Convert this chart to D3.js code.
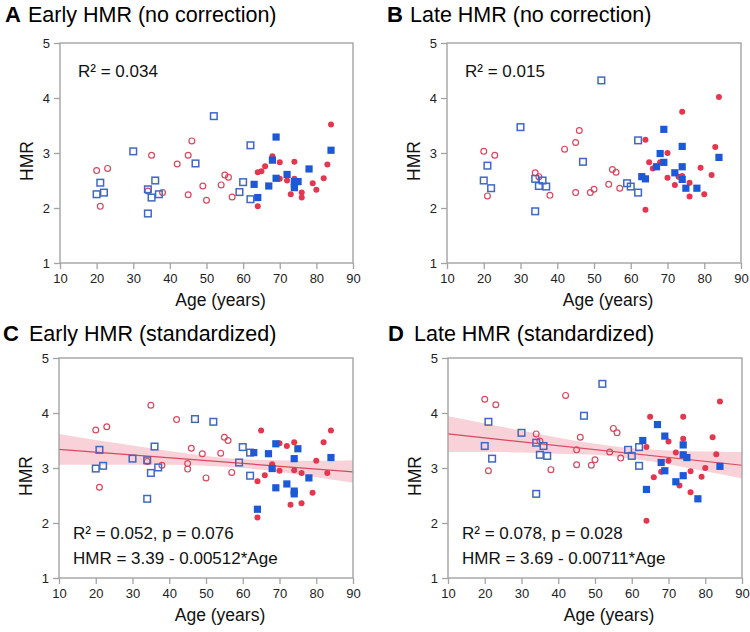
<!DOCTYPE html>
<html><head><meta charset="utf-8">
<script src="https://cdn.jsdelivr.net/npm/d3@7"></script>
<style>
body{margin:0;background:#fff}
svg{display:block;font-family:"Liberation Sans",Arial,Helvetica,sans-serif}
</style>
</head><body>
<svg id="chart" width="750" height="632"></svg>
<script>
// ---------- data ----------
const xTicks = [10, 20, 30, 40, 50, 60, 70, 80, 90];
const yTicks = [1, 2, 3, 4, 5];

// ages for each subject group (same subjects in every panel)
const ageOpenCircle  = [20,21,23,34,35,38,42,45,46,45,49,50,54,55,56,57];
const ageOpenSquare  = [20,21,22,30,34,34,36,35,37,47,52,59,60,62,62];
const ageFilledSquare = [63,64,67,68,69,69,72,74,74,74,75,78,84];
const ageFilledCircle = [64,64,65,66,68,70,70,72,73,74,74,76,76,79,80,82,83,84];

// Panel A: Early HMR (no correction)
const A_openCircle  = [2.68,2.03,2.72,2.31,2.96,2.28,2.80,2.96,3.22,2.24,2.40,2.14,2.42,2.60,2.56,2.20];
const A_openSquare  = [2.25,2.46,2.28,3.03,2.34,1.90,2.50,2.19,2.25,2.81,3.67,2.29,2.47,3.14,2.16];
const A_filledSquare = [2.43,2.19,2.40,2.87,3.29,2.54,2.61,2.48,2.37,2.42,2.48,2.71,3.05];
const A_filledCircle = [2.65,2.03,2.67,2.76,2.94,2.83,2.53,2.50,2.25,2.84,2.53,2.28,2.19,2.45,2.33,2.54,2.79,3.52];

// Panel B: Late HMR (no correction)
const B_openCircle  = [3.03,2.22,2.96,2.64,2.57,2.23,3.07,3.19,3.41,2.28,2.28,2.34,2.43,2.70,2.65,2.36];
const B_openSquare  = [2.50,2.77,2.36,3.47,2.53,1.94,2.50,2.40,2.39,2.84,4.32,2.45,2.39,3.23,2.28];
const B_filledSquare = [2.57,2.53,2.75,2.99,3.43,2.83,2.64,3.12,2.75,2.52,2.36,2.36,2.92];
const B_filledCircle = [3.24,1.97,2.83,2.72,2.83,3.00,2.55,2.42,2.57,3.75,2.58,2.46,2.21,2.73,2.25,2.60,3.11,4.02];

// Panel C: Early HMR (standardized)
const C_openCircle  = [3.69,2.65,3.75,3.12,4.14,3.05,3.88,3.08,3.36,2.98,3.26,2.82,3.27,3.56,3.50,2.92];
const C_openSquare  = [2.99,3.33,3.04,3.17,3.14,2.44,3.39,2.91,3.01,3.89,3.84,3.10,3.38,3.28,2.86];
const C_filledSquare = [3.28,2.25,3.26,2.99,3.44,2.64,2.71,3.17,2.58,2.53,3.35,2.82,3.19];
const C_filledCircle = [2.76,2.10,3.68,2.87,3.07,3.45,2.95,3.40,2.33,3.47,2.96,2.91,2.36,2.55,3.13,3.47,2.91,3.68];

// Panel D: Late HMR (standardized)
const D_openCircle  = [4.25,2.95,4.15,3.62,3.49,2.97,4.32,3.33,3.56,3.06,3.05,3.15,3.29,3.72,3.64,3.18];
const D_openSquare  = [3.40,3.84,3.17,3.64,3.46,2.53,3.40,3.24,3.22,3.95,4.53,3.33,3.22,3.38,3.04];
const D_filledSquare = [3.50,2.61,3.79,3.10,3.58,2.95,2.75,3.42,3.24,2.86,3.19,2.44,3.03];
const D_filledCircle = [3.38,2.04,3.93,2.83,2.93,3.48,3.13,3.28,2.68,3.93,3.53,2.94,2.56,2.84,3.00,3.56,3.25,4.21];

// regression fits (intercept, slope) as printed, and confidence bands
const C_fit = [3.39, -0.00512];
const D_fit = [3.69, -0.00711];
const bandAges   = [10, 20, 30, 40, 50, 60, 70, 80, 90];
const C_bandUpper = [3.62, 3.51, 3.41, 3.31, 3.22, 3.16, 3.14, 3.13, 3.14];
const C_bandLower = [3.06, 3.06, 3.06, 3.06, 3.04, 3.00, 2.93, 2.83, 2.73];
const D_bandUpper = [3.94, 3.81, 3.68, 3.55, 3.44, 3.36, 3.32, 3.30, 3.29];
const D_bandLower = [3.29, 3.29, 3.28, 3.26, 3.24, 3.17, 3.07, 2.94, 2.81];

const letters = ["A", "B", "C", "D"];
const titles = ["Early HMR (no correction)", "Late HMR (no correction)",
                "Early HMR (standardized)", "Late HMR (standardized)"];
const A_stats = ["R\u00b2 = 0.034"];
const B_stats = ["R\u00b2 = 0.015"];
const C_stats = ["R\u00b2 = 0.052, p = 0.076", "HMR = 3.39 - 0.00512*Age"];
const D_stats = ["R\u00b2 = 0.078, p = 0.028", "HMR = 3.69 - 0.00711*Age"];
const xLabel = "Age (years)";
const yLabel = "HMR";

// ---------- styles / layout ----------
const RED = "#e5364f", RED_OPEN = "#d8485f";
const BLUE = "#1d58d6", BLUE_OPEN = "#4068c2";
const FRAME = "#a3a3a3";
const BAND = "#f8d2d8";

const panels = [
  {letter: letters[0], title: titles[0], box: {l: 60, r: 353, t: 43, b: 263}, titleX: [5, 28], titleY: 21.5,
   oc: A_openCircle, os: A_openSquare, fs: A_filledSquare, fc: A_filledCircle, stats: A_stats, statsX: 78, statsY: [76.5]},
  {letter: letters[1], title: titles[1], box: {l: 447, r: 741, t: 43, b: 263}, titleX: [387, 410], titleY: 21.5,
   oc: B_openCircle, os: B_openSquare, fs: B_filledSquare, fc: B_filledCircle, stats: B_stats, statsX: 465, statsY: [76.5]},
  {letter: letters[2], title: titles[2], box: {l: 59, r: 353, t: 358, b: 578}, titleX: [3, 29], titleY: 341,
   oc: C_openCircle, os: C_openSquare, fs: C_filledSquare, fc: C_filledCircle, stats: C_stats, statsX: 73, statsY: [538.5, 564],
   fit: C_fit, bandU: C_bandUpper, bandL: C_bandLower},
  {letter: letters[3], title: titles[3], box: {l: 448, r: 742, t: 358, b: 578}, titleX: [388, 414], titleY: 341,
   oc: D_openCircle, os: D_openSquare, fs: D_filledSquare, fc: D_filledCircle, stats: D_stats, statsX: 462, statsY: [538.5, 564],
   fit: D_fit, bandU: D_bandUpper, bandL: D_bandLower}
];

const svg = d3.select("#chart");

panels.forEach(p => {
  const g = svg.append("g");
  const bx = p.box;
  const x = d3.scaleLinear().domain([10, 90]).range([bx.l, bx.r]);
  const y = d3.scaleLinear().domain([1, 5]).range([bx.b, bx.t]);

  // title
  g.append("text").attr("x", p.titleX[0]).attr("y", p.titleY)
    .attr("font-size", 22).attr("font-weight", "bold").attr("fill", "#000").text(p.letter);
  g.append("text").attr("x", p.titleX[1]).attr("y", p.titleY)
    .attr("font-size", 21.5).attr("fill", "#000").text(p.title);

  // band + regression line
  if (p.fit) {
    const bandData = bandAges.map((a, i) => ({a, u: p.bandU[i], l: p.bandL[i]}));
    g.append("path").datum(bandData)
      .attr("d", d3.area().x(d => x(d.a)).y0(d => y(d.l)).y1(d => y(d.u)).curve(d3.curveMonotoneX))
      .attr("fill", BAND);
    g.append("line")
      .attr("x1", x(10)).attr("y1", y(p.fit[0] + p.fit[1] * 10))
      .attr("x2", x(90)).attr("y2", y(p.fit[0] + p.fit[1] * 90))
      .attr("stroke", RED_OPEN).attr("stroke-width", 1.2);
  }

  // axes
  const xAxis = d3.axisBottom(x).tickValues(xTicks).tickFormat(d3.format("d")).tickSize(6).tickPadding(4);
  const yAxis = d3.axisLeft(y).tickValues(yTicks).tickFormat(d3.format("d")).tickSize(6).tickPadding(4);
  const gx = g.append("g").attr("transform", `translate(0,${bx.b})`).call(xAxis);
  const gy = g.append("g").attr("transform", `translate(${bx.l},0)`).call(yAxis);
  [gx, gy].forEach(a => {
    a.select(".domain").remove();
    a.selectAll(".tick line").attr("stroke", FRAME).attr("stroke-width", 1.3);
    a.selectAll(".tick text").attr("font-size", 13).attr("fill", "#222")
      .attr("font-family", '"Liberation Sans",Arial,sans-serif');
  });
  gx.selectAll(".tick text").attr("dy", "0.75em");

  // frame
  g.append("rect").attr("x", bx.l).attr("y", bx.t)
    .attr("width", bx.r - bx.l).attr("height", bx.b - bx.t)
    .attr("fill", "none").attr("stroke", FRAME).attr("stroke-width", 1.4);

  // axis labels
  g.append("text").attr("x", (bx.l + bx.r) / 2 + 14).attr("y", bx.b + 43)
    .attr("text-anchor", "middle").attr("font-size", 17.5).attr("fill", "#111").text(xLabel);
  g.append("text")
    .attr("transform", `translate(${bx.l - 27},${(bx.t + bx.b) / 2 + 8}) rotate(-90)`)
    .attr("text-anchor", "middle").attr("font-size", 17.5).attr("fill", "#111").text(yLabel);

  // points
  const pts = (ages, vals) => ages.map((a, i) => ({a, v: vals[i]}));
  g.selectAll(".oc").data(pts(ageOpenCircle, p.oc)).join("circle")
    .attr("cx", d => x(d.a)).attr("cy", d => y(d.v)).attr("r", 2.9)
    .attr("fill", "none").attr("stroke", RED_OPEN).attr("stroke-width", 1.2);
  g.selectAll(".fc").data(pts(ageFilledCircle, p.fc)).join("circle")
    .attr("cx", d => x(d.a)).attr("cy", d => y(d.v)).attr("r", 3)
    .attr("fill", RED);
  g.selectAll(".os").data(pts(ageOpenSquare, p.os)).join("rect")
    .attr("x", d => x(d.a) - 3.3).attr("y", d => y(d.v) - 3.3)
    .attr("width", 6.6).attr("height", 6.6)
    .attr("fill", "none").attr("stroke", BLUE_OPEN).attr("stroke-width", 1.5);
  g.selectAll(".fs").data(pts(ageFilledSquare, p.fs)).join("rect")
    .attr("x", d => x(d.a) - 3.6).attr("y", d => y(d.v) - 3.6)
    .attr("width", 7.2).attr("height", 7.2)
    .attr("fill", BLUE);

  // stats text
  p.stats.forEach((s, i) => {
    g.append("text").attr("x", p.statsX).attr("y", p.statsY[i])
      .attr("font-size", 17).attr("fill", "#111").text(s);
  });
});
</script>
</body></html>
